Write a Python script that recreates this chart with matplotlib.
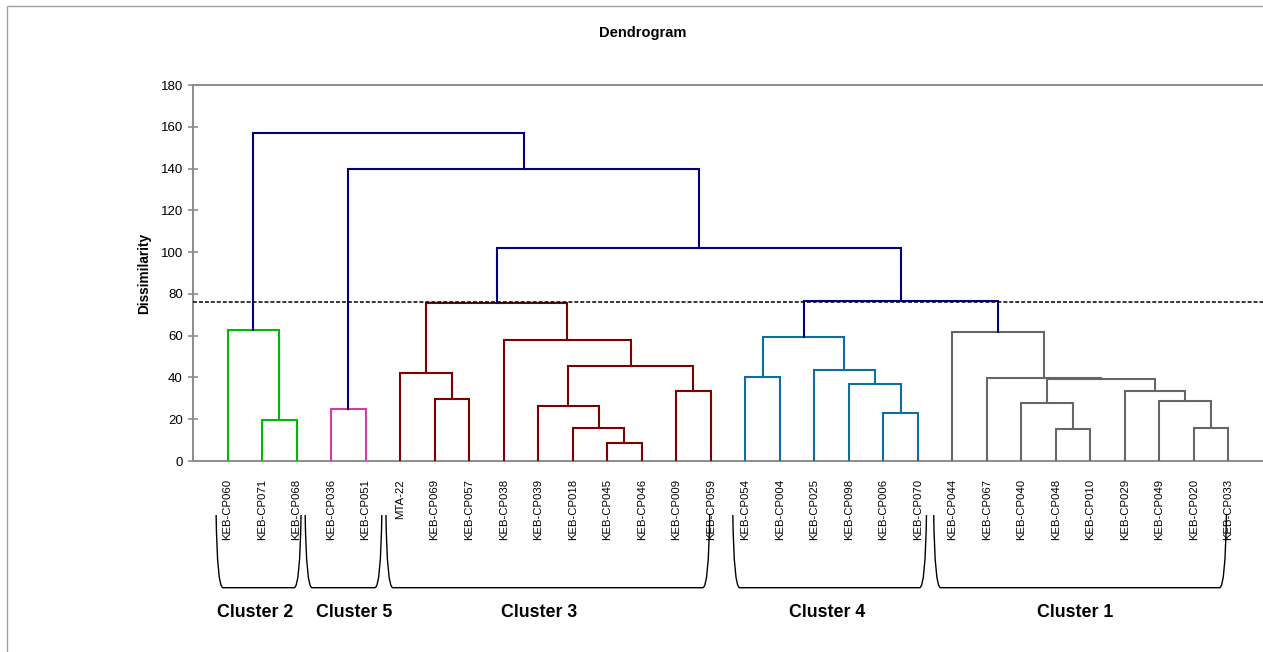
import matplotlib.pyplot as plt
import matplotlib.transforms as mtransforms
from matplotlib.path import Path
from matplotlib.patches import PathPatch
from matplotlib.lines import Line2D

# leaf order as shown on the x axis
leaves = ["KEB-CP060", "KEB-CP071", "KEB-CP068", "KEB-CP036", "KEB-CP051",
          "MTA-22", "KEB-CP069", "KEB-CP057", "KEB-CP038", "KEB-CP039",
          "KEB-CP018", "KEB-CP045", "KEB-CP046", "KEB-CP009", "KEB-CP059",
          "KEB-CP054", "KEB-CP004", "KEB-CP025", "KEB-CP098", "KEB-CP006",
          "KEB-CP070", "KEB-CP044", "KEB-CP067", "KEB-CP040", "KEB-CP048",
          "KEB-CP010", "KEB-CP029", "KEB-CP049", "KEB-CP020", "KEB-CP033"]

# merges like a scipy linkage: ids 0..29 are leaves, 30.. are merges in this order
merge_left = [1, 0, 3,
              6, 5, 11, 10, 9, 13, 37, 8, 34,
              15, 19, 18, 17, 42,
              24, 23, 28, 27, 26, 48, 22, 21,
              46, 41, 32, 31]
merge_right = [2, 30, 4,
               7, 33, 12, 35, 36, 14, 38, 39, 40,
               16, 20, 43, 44, 45,
               25, 47, 29, 49, 50, 51, 52, 53,
               54, 55, 56, 57]
merge_height = [19.6, 62.5, 24.9,
                29.8, 42.1, 8.8, 15.6, 26.2, 33.5, 45.3, 57.9, 75.8,
                40.2, 22.8, 36.8, 43.5, 59.3,
                15.2, 27.6, 15.9, 28.9, 33.5, 39.3, 39.7, 61.9,
                76.6, 101.9, 139.6, 156.8]
merge_group = ["c2", "c2", "c5",
               "c3", "c3", "c3", "c3", "c3", "c3", "c3", "c3", "c3",
               "c4", "c4", "c4", "c4", "c4",
               "c1", "c1", "c1", "c1", "c1", "c1", "c1", "c1",
               "top", "top", "top", "top"]
cut_height = 76.2

cluster_names = ["Cluster 2", "Cluster 5", "Cluster 3", "Cluster 4", "Cluster 1"]
cluster_first = [1, 4, 6, 16, 22]
cluster_last = [3, 5, 15, 21, 30]

colors = {"c2": "#00bb00", "c5": "#d63aa8", "c3": "#7f0000",
          "c4": "#0e6ea0", "c1": "#666666", "top": "#000080"}
axis_gray = "#8c8c8c"
font = ["Liberation Sans", "DejaVu Sans"]

fig = plt.figure(figsize=(12.63, 6.52), dpi=100)
ax = fig.add_axes([193 / 1263, 1 - 461 / 652, 1 - 193 / 1263, 376 / 652])

# x position / height of every node
xpos = {i: i + 1 for i in range(len(leaves))}
ypos = {i: 0.0 for i in range(len(leaves))}
n = len(leaves)
for k in range(len(merge_height)):
    a, b, h = merge_left[k], merge_right[k], merge_height[k]
    col = colors[merge_group[k]]
    ax.plot([xpos[a], xpos[a], xpos[b], xpos[b]], [ypos[a], h, h, ypos[b]],
            color=col, lw=1.5, solid_joinstyle="miter", zorder=3)
    xpos[n + k] = (xpos[a] + xpos[b]) / 2
    ypos[n + k] = h

ax.axhline(cut_height, color="black", lw=1.1, ls=(0, (2.6, 1.3)), zorder=4)

ax.set_xlim(0, 31)
ax.set_ylim(0, 180)
ax.set_yticks(range(0, 181, 20))
ax.tick_params(axis="y", direction="inout", length=6.5, width=1.2, color=axis_gray,
               labelsize=9.5, pad=4)
ax.set_xticks([xpos[i] for i in range(n)])
ax.set_xticklabels(leaves, rotation=90, family=font, fontsize=8.2)
ax.tick_params(axis="x", length=0, pad=13)
for lab in ax.get_yticklabels():
    lab.set_family(font)
for s in ["left", "top", "bottom"]:
    ax.spines[s].set_color(axis_gray)
    ax.spines[s].set_linewidth(1.4)
ax.spines["right"].set_visible(False)
ax.set_ylabel("Dissimilarity", fontsize=9.8, fontweight="bold", family=font, labelpad=7)

fig.text(643 / 1263, 1 - 33 / 652, "Dendrogram", ha="center", va="center",
         fontsize=10.5, fontweight="bold", family=font)

# brackets under the labels (x in data units, y in axes units)
trans = mtransforms.blended_transform_factory(ax.transData, ax.transAxes)
left_pad = [0.33, 0.75, 0.41, 0.36, 0.54]
right_pad = [0.13, 0.47, -0.03, 0.25, -0.06]
label_shift = [-0.1, 0.3, -0.25, -0.06, -0.13]
top, bot = -0.1436, -0.337
for i, name in enumerate(cluster_names):
    x0 = cluster_first[i] - left_pad[i]
    x1 = cluster_last[i] + right_pad[i]
    c = 0.2
    verts = [(x0, top), (x0 + 0.03, bot), (x0 + c, bot),
             (x1 - c, bot),
             (x1 - 0.03, bot), (x1, top)]
    codes = [Path.MOVETO, Path.CURVE3, Path.CURVE3, Path.LINETO, Path.CURVE3, Path.CURVE3]
    ax.add_patch(PathPatch(Path(verts, codes), transform=trans, fill=False,
                           edgecolor="black", lw=1.0, clip_on=False))
    ax.text((x0 + x1) / 2 + label_shift[i], -0.402, name, transform=trans,
            ha="center", va="center", fontsize=12.8, fontweight="bold", family=font)

# outer frame of the chart area
fig.add_artist(Line2D([7 / 1263, 7 / 1263, 1.0], [0.0, 1 - 6 / 652, 1 - 6 / 652],
                      transform=fig.transFigure, color="#a0a0a0", lw=1.0))

fig.savefig("out.png", dpi=100)
